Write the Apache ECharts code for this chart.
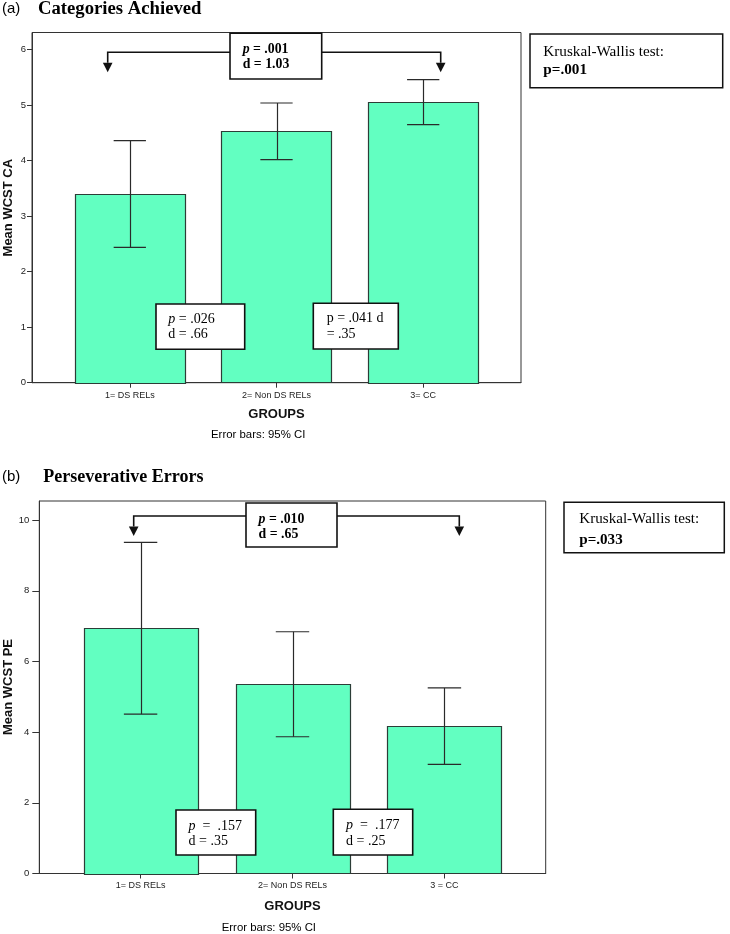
<!DOCTYPE html>
<html>
<head>
<meta charset="utf-8">
<script src="https://cdn.jsdelivr.net/npm/echarts@6/dist/echarts.min.js"></script>
<style>html,body{margin:0;padding:0;background:#fff}#c{width:730px;height:934px}</style>
</head>
<body>
<div id="c"></div>
<script>
// ---- data ----
const catsA = ['1= DS RELs', '2= Non DS RELs', '3= CC'];
const meansA = [3.40, 4.53, 5.06];
const lowA = [2.44, 4.02, 4.65];
const highA = [4.36, 5.04, 5.46];
const ticksA = [0, 1, 2, 3, 4, 5, 6];

const catsB = ['1= DS RELs', '2= Non DS RELs', '3 = CC'];
const meansB = [6.95, 5.35, 4.17];
const lowB = [4.51, 3.87, 3.09];
const highB = [9.37, 6.84, 5.25];
const ticksB = [0, 2, 4, 6, 8, 10];

const catPos = [1, 2, 3];

// ---- styles ----
const SERIF = '"Liberation Serif","Times New Roman",serif';
const SANS = '"Liberation Sans",Arial,sans-serif';
const BAR_FILL = '#62FFC1';
const BAR_STROKE = '#2c3d37';
const INK = '#222';

function barRender(params, api) {
  const x = api.value(0), v = api.value(1);
  const p0 = api.coord([x - 0.375, v]);
  const p1 = api.coord([x + 0.375, 0]);
  return {
    type: 'rect',
    shape: { x: Math.round(p0[0]) + 0.5, y: Math.round(p0[1]) + 0.5, width: Math.round(p1[0] - p0[0]), height: Math.round(p1[1] - p0[1]) },
    style: { fill: BAR_FILL, stroke: BAR_STROKE, lineWidth: 1.2 }
  };
}
function errRender(params, api) {
  const x = api.value(0), lo = api.value(1), hi = api.value(2);
  const a = api.coord([x, lo]), b = api.coord([x, hi]);
  const l = api.coord([x - 0.11, lo]), r = api.coord([x + 0.11, lo]);
  const lh = api.coord([x - 0.11, hi]), rh = api.coord([x + 0.11, hi]);
  const st = { stroke: '#2a2a2a', lineWidth: 1.2 };
  const cx = Math.round(a[0]) + 0.5;
  return {
    type: 'group',
    children: [
      { type: 'line', shape: { x1: cx, y1: a[1], x2: cx, y2: b[1] }, style: st },
      { type: 'line', shape: { x1: l[0], y1: a[1], x2: r[0], y2: a[1] }, style: st },
      { type: 'line', shape: { x1: lh[0], y1: b[1], x2: rh[0], y2: b[1] }, style: st }
    ]
  };
}

function xAxisFor(gi, cats) {
  return {
    type: 'value', gridIndex: gi, min: 1 / 3, max: 11 / 3,
    axisLine: { show: true, onZero: false, lineStyle: { color: '#333', width: 1 } },
    axisTick: { show: true, customValues: catPos, length: 5, lineStyle: { color: '#333' } },
    axisLabel: { customValues: catPos, formatter: v => cats[Math.round(v) - 1], fontFamily: SANS, fontSize: 9, color: INK, margin: 8 },
    splitLine: { show: false },
    name: 'GROUPS', nameLocation: 'middle', nameGap: 25,
    nameTextStyle: { fontFamily: SANS, fontSize: 13, fontWeight: 'bold', color: '#111' }
  };
}
function yAxisFor(gi, max, ticks, tickLen, margin) {
  return {
    type: 'value', gridIndex: gi, min: 0, max: max,
    axisLine: { show: true, lineStyle: { color: '#333', width: 1 } },
    axisTick: { show: true, customValues: ticks, length: tickLen, lineStyle: { color: '#333' } },
    axisLabel: { customValues: ticks, fontFamily: SANS, fontSize: 9.5, color: INK, margin: margin },
    splitLine: { show: false }
  };
}

// ---- annotation helpers ----
function box(x, y, w, h, lw) {
  return { type: 'rect', shape: { x: x, y: y, width: w, height: h }, style: { fill: '#fff', stroke: '#111', lineWidth: lw || 1.6 }, z: 100 };
}
function txt(x, y, text, size, weight, family, italicP) {
  const style = { text: text, x: x, y: y, fontFamily: family, fontSize: size, fontWeight: weight, fill: '#000', verticalAlign: 'middle', align: 'left' };
  if (italicP) {
    style.rich = { i: { fontStyle: 'italic', fontWeight: weight, fontFamily: family, fontSize: size, fill: '#000' } };
  }
  return { type: 'text', style: style, z: 101 };
}
function vtitle(cx, cy, text) {
  return { type: 'text', x: cx, y: cy, rotation: Math.PI / 2, style: { text: text, x: 0, y: 0, fontFamily: SANS, fontSize: 13, fontWeight: 'bold', fill: '#111', align: 'center', verticalAlign: 'middle' }, z: 101 };
}
function bracket(xl, xr, yLine, bxL, bxR, yTip) {
  const st = { stroke: '#111', lineWidth: 1.6, fill: null };
  const headTop = yTip - 9.5;
  return [
    { type: 'polyline', shape: { points: [[xl, headTop], [xl, yLine], [bxL, yLine]] }, style: st, z: 99 },
    { type: 'polyline', shape: { points: [[bxR, yLine], [xr, yLine], [xr, headTop]] }, style: st, z: 99 },
    { type: 'polygon', shape: { points: [[xl - 4.8, headTop], [xl + 4.8, headTop], [xl, yTip]] }, style: { fill: '#111' }, z: 99 },
    { type: 'polygon', shape: { points: [[xr - 4.8, headTop], [xr + 4.8, headTop], [xr, yTip]] }, style: { fill: '#111' }, z: 99 }
  ];
}

const graphics = [].concat(
  // panel (a)
  [txt(2, 9, '(a)', 15, 'normal', SANS, false), txt(38, 9, 'Categories Achieved', 18.7, 'bold', SERIF, false)],
  [vtitle(8.5, 207.7, 'Mean WCST CA')],
  bracket(107.7, 440.7, 52.3, 230, 321.7, 72.3),
  [box(230, 33.3, 91.7, 45.7), txt(242.7, 49, '{i|p} = .001', 13.8, 'bold', SERIF, true), txt(242.7, 64.3, 'd = 1.03', 13.8, 'bold', SERIF, false)],
  [box(156, 304, 88.7, 45.3), txt(168.3, 319.3, '{i|p} = .026', 14, 'normal', SERIF, true), txt(168.3, 334, 'd = .66', 14, 'normal', SERIF, false)],
  [box(313.3, 303.3, 85, 45.7), txt(326.7, 318.7, 'p = .041 d', 14, 'normal', SERIF, false), txt(326.7, 334, '= .35', 14, 'normal', SERIF, false)],
  [box(530, 34, 192.7, 53.7, 1.5), txt(543.3, 51.7, 'Kruskal-Wallis test:', 15.2, 'normal', SERIF, false), txt(543.3, 70, 'p=.001', 15.2, 'bold', SERIF, false)],
  [txt(211, 435, 'Error bars: 95% CI', 11.4, 'normal', SANS, false)],
  // panel (b)
  [txt(2, 477, '(b)', 15, 'normal', SANS, false), txt(43.3, 477, 'Perseverative Errors', 18, 'bold', SERIF, false)],
  [vtitle(8.5, 687, 'Mean WCST PE')],
  bracket(133.7, 459.3, 516, 246, 337, 536),
  [box(246, 503, 91, 44), txt(258.6, 519.3, '{i|p} = .010', 13.8, 'bold', SERIF, true), txt(258.6, 534.8, 'd = .65', 13.8, 'bold', SERIF, false)],
  [box(176, 810, 79.7, 45), txt(188.5, 826.7, '{i|p}  =  .157', 14, 'normal', SERIF, true), txt(188.5, 841, 'd = .35', 14, 'normal', SERIF, false)],
  [box(333.3, 809.3, 79.4, 45.7), txt(346, 825.5, '{i|p}  =  .177', 14, 'normal', SERIF, true), txt(346, 841, 'd = .25', 14, 'normal', SERIF, false)],
  [box(564, 502.3, 160.3, 50.4, 1.5), txt(579.3, 519.3, 'Kruskal-Wallis test:', 15.1, 'normal', SERIF, false), txt(579.3, 540, 'p=.033', 15.1, 'bold', SERIF, false)],
  [txt(221.7, 928.3, 'Error bars: 95% CI', 11.4, 'normal', SANS, false)]
);

const chart = echarts.init(document.getElementById('c'), null, { renderer: 'canvas' });
chart.setOption({
  animation: false,
  backgroundColor: '#fff',
  grid: [
    { left: 32, top: 32.5, width: 489, height: 350.2, show: true, borderColor: '#333', borderWidth: 1, backgroundColor: 'transparent', containLabel: false, outerBoundsMode: 'none' },
    { left: 39.3, top: 501, width: 506.4, height: 372.5, show: true, borderColor: '#333', borderWidth: 1, backgroundColor: 'transparent', containLabel: false, outerBoundsMode: 'none' }
  ],
  xAxis: [xAxisFor(0, catsA), Object.assign(xAxisFor(1, catsB), { nameGap: 26 })],
  yAxis: [yAxisFor(0, 6.31, ticksA, 5, 6), yAxisFor(1, 10.54, ticksB, 7, 10)],
  series: [
    { type: 'custom', xAxisIndex: 0, yAxisIndex: 0, renderItem: barRender, data: meansA.map((m, i) => [catPos[i], m]), encode: { x: 0, y: 1 }, z: 2 },
    { type: 'custom', xAxisIndex: 0, yAxisIndex: 0, renderItem: errRender, data: lowA.map((l, i) => [catPos[i], l, highA[i]]), encode: { x: 0, y: [1, 2] }, z: 3 },
    { type: 'custom', xAxisIndex: 1, yAxisIndex: 1, renderItem: barRender, data: meansB.map((m, i) => [catPos[i], m]), encode: { x: 0, y: 1 }, z: 2 },
    { type: 'custom', xAxisIndex: 1, yAxisIndex: 1, renderItem: errRender, data: lowB.map((l, i) => [catPos[i], l, highB[i]]), encode: { x: 0, y: [1, 2] }, z: 3 }
  ],
  graphic: graphics
});
</script>
</body>
</html>
